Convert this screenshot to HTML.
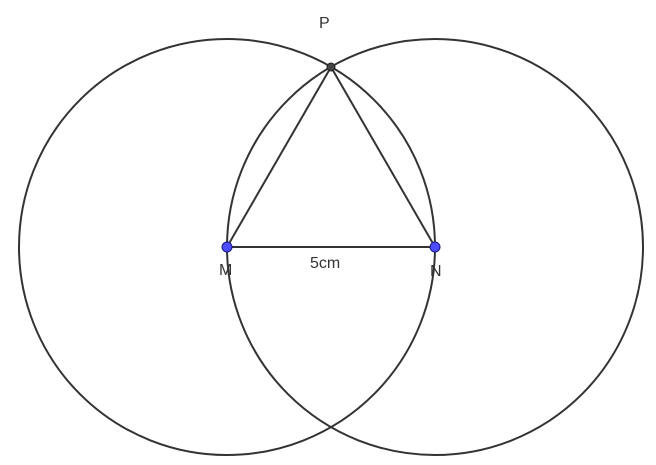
<!DOCTYPE html>
<html><head><meta charset="utf-8"><style>
html,body{margin:0;padding:0;background:#fff;width:656px;height:465px;overflow:hidden}
</style></head><body>
<svg width="656" height="465" viewBox="0 0 656 465" xmlns="http://www.w3.org/2000/svg">
<g fill="none" stroke="#333" stroke-width="2">
<circle cx="227" cy="247" r="208"/>
<circle cx="435" cy="247" r="208"/>
<line x1="227" y1="247" x2="435" y2="247"/>
<line x1="227" y1="247" x2="331" y2="67"/>
<line x1="435" y1="247" x2="331" y2="67"/>
</g>
<circle cx="331" cy="67" r="4" fill="#444" stroke="#222" stroke-width="1"/>
<circle cx="227" cy="247" r="5" fill="#4d4dff" stroke="#1a1a80" stroke-width="1"/>
<circle cx="435" cy="247" r="5" fill="#4d4dff" stroke="#1a1a80" stroke-width="1"/>
<g font-family="Liberation Sans, sans-serif" font-size="16" fill="#333">
<text x="319" y="28">P</text>
<text x="219" y="275">M</text>
<text x="430" y="276">N</text>
<text x="310" y="268">5cm</text>
</g>
</svg>
</body></html>
